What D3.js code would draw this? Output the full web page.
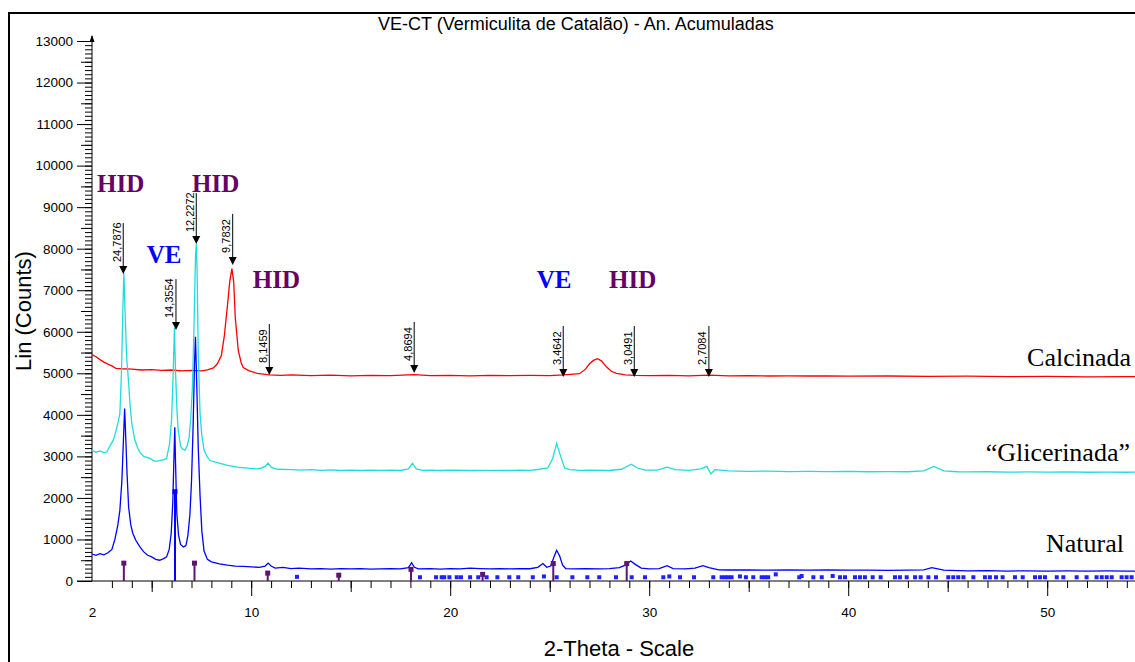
<!DOCTYPE html>
<html>
<head>
<meta charset="utf-8">
<script src="https://cdn.jsdelivr.net/npm/d3@7"></script>
<style>
body { margin:0; background:#fff; }
svg { display:block; }
</style>
</head>
<body>
<div id="chart"></div>
<script>
var natural = [[2.0,650],[2.2,620],[2.4,660],[2.6,630],[2.8,680],[3.0,760],[3.15,1000],[3.3,1350],[3.4,1700],[3.5,2400],[3.58,3400],[3.64,4150],[3.7,3400],[3.76,2600],[3.84,1780],[3.95,1350],[4.05,1150],[4.2,980],[4.4,830],[4.6,700],[4.8,620],[5.0,580],[5.2,520],[5.4,500],[5.6,540],[5.75,580],[5.88,760],[5.98,1150],[6.06,1900],[6.12,3000],[6.16,3700],[6.2,2800],[6.26,1650],[6.35,1100],[6.45,880],[6.6,820],[6.72,850],[6.82,1100],[6.92,1600],[7.0,2400],[7.08,3700],[7.15,5200],[7.2,5880],[7.26,4800],[7.34,3200],[7.43,2050],[7.52,1200],[7.63,720],[7.8,520],[8.0,460],[8.4,410],[8.8,380],[9.2,360],[9.6,350],[10.0,340],[10.4,330],[10.7,360],[10.85,430],[11.0,360],[11.2,310],[11.6,330],[12.0,300],[12.4,310],[13.0,290],[13.5,300],[14.0,285],[14.5,300],[15.0,290],[15.5,300],[16.0,285],[16.5,290],[17.0,300],[17.5,290],[17.9,320],[18.06,440],[18.2,330],[18.4,290],[19.0,300],[19.5,285],[20.0,300],[20.5,290],[21.0,310],[21.5,300],[22.0,290],[22.5,300],[23.0,290],[23.5,300],[24.0,295],[24.4,330],[24.66,420],[24.85,330],[25.05,360],[25.2,560],[25.35,740],[25.5,600],[25.65,380],[25.8,300],[26.2,290],[26.8,295],[27.5,290],[28.0,300],[28.5,320],[28.8,380],[29.07,480],[29.3,400],[29.6,310],[30.0,290],[30.5,300],[30.9,370],[31.2,300],[31.8,290],[32.3,310],[32.7,370],[33.0,320],[33.5,270],[34.0,265],[35.0,270],[36.0,260],[37.0,265],[38.0,260],[39.0,265],[40.0,260],[41.0,262],[42.0,258],[43.0,262],[43.8,270],[44.2,320],[44.5,290],[44.8,260],[45.5,250],[46.0,245],[47,248],[48,240],[49,245],[50,240],[51,244],[52,238],[53,243],[54,238],[55,242]];

var glicerinada = [[2.0,3150],[2.2,3100],[2.4,3130],[2.6,3090],[2.75,3110],[2.9,3250],[3.07,3390],[3.2,3600],[3.3,3800],[3.4,4030],[3.48,5000],[3.55,6500],[3.6,7420],[3.66,6500],[3.74,5400],[3.83,4830],[3.92,4200],[4.0,3790],[4.15,3400],[4.3,3200],[4.4,3100],[4.6,3000],[4.9,2950],[5.17,2880],[5.4,2900],[5.6,2920],[5.75,2950],[5.9,3310],[6.0,3900],[6.08,5000],[6.14,6100],[6.2,5000],[6.27,4100],[6.33,3630],[6.45,3250],[6.55,3180],[6.67,3150],[6.78,3250],[6.88,3450],[6.96,3900],[7.04,4600],[7.12,6000],[7.2,7800],[7.24,8110],[7.28,7500],[7.34,5500],[7.43,4030],[7.52,3500],[7.63,3150],[7.8,2980],[7.93,2900],[8.3,2850],[8.77,2790],[9.3,2740],[9.94,2710],[10.4,2700],[10.7,2760],[10.85,2840],[11.0,2740],[11.3,2690],[12,2680],[12.5,2670],[13,2680],[13.5,2665],[14,2675],[14.5,2660],[15,2670],[15.5,2660],[16,2670],[16.5,2665],[17,2670],[17.5,2660],[17.9,2700],[18.1,2830],[18.3,2700],[18.6,2665],[19,2670],[19.5,2660],[20,2670],[21,2660],[22,2665],[23,2660],[23.5,2670],[24,2665],[24.5,2690],[24.9,2720],[25.15,2950],[25.35,3310],[25.55,3000],[25.75,2720],[26,2680],[26.5,2665],[27,2670],[28,2660],[28.6,2690],[29.1,2810],[29.4,2720],[29.8,2670],[30.4,2670],[30.9,2740],[31.3,2680],[32,2665],[32.6,2700],[32.9,2760],[33.1,2580],[33.3,2680],[34,2650],[35,2640],[36,2645],[37,2635],[38,2640],[39,2635],[40,2640],[41,2630],[42,2635],[43,2630],[43.8,2650],[44.3,2760],[44.8,2650],[45.5,2630],[46,2625],[47,2630],[48,2620],[49,2625],[50,2620],[51,2625],[52,2618],[53,2622],[54,2618],[55,2620]];

var calcinada = [[2.0,5450],[2.2,5400],[2.4,5330],[2.6,5270],[2.8,5220],[3.0,5180],[3.2,5120],[3.5,5110],[4,5100],[4.5,5080],[5,5090],[5.5,5070],[6,5080],[6.5,5060],[7,5070],[7.5,5060],[7.8,5080],[8.1,5130],[8.3,5230],[8.5,5430],[8.65,5900],[8.8,6600],[8.92,7200],[9.03,7520],[9.12,7200],[9.2,6340],[9.35,5550],[9.5,5250],[9.6,5140],[9.9,5060],[10.3,5000],[10.9,4960],[11.5,4950],[12,4960],[13,4945],[14,4955],[15,4940],[16,4950],[17,4945],[18.2,4970],[19,4945],[20,4950],[21,4940],[22,4950],[23,4945],[24,4950],[25,4945],[25.7,4960],[26.2,4980],[26.5,4990],[26.8,5100],[27.0,5230],[27.2,5310],[27.4,5350],[27.6,5300],[27.86,5150],[28.1,5050],[28.36,5000],[28.8,4960],[29.3,4950],[30,4945],[31,4950],[32,4940],[33,4955],[34,4940],[35,4945],[36,4935],[37,4940],[38,4935],[39,4940],[40,4930],[42,4935],[44,4925],[46,4930],[48,4920],[50,4925],[52,4915],[54,4920],[55,4915]];

var seriesNames = ["Calcinada", "\u201cGlicerinada\u201d", "Natural"];
var seriesColors = ["#ff0000", "#22dcdc", "#0000ff"];
var nameCounts = [5170, 2880, 700];

// setas com d (Å)
var arrowLabels = ["24,7876","14,3554","12,2272","9,7832","8,1459","4,8694","3,4642","3,0491","2,7084"];
var arrowTheta = [3.57, 6.22, 7.24, 9.07, 10.91, 18.19, 25.68, 29.25, 33.0];
var arrowCounts = [7390, 6040, 8110, 7610, 4960, 5010, 4910, 4910, 4910];

// fases
var phaseLabels = ["HID","HID","VE","HID","VE","HID"];
var phaseTheta = [2.25, 7.03, 4.75, 10.08, 24.35, 27.98];
var phaseCounts = [9370, 9370, 7660, 7060, 7060, 7060];

// padrões de referência
var hidTheta = [3.6, 7.15, 10.83, 14.4, 18.03, 21.63, 25.18, 28.87];
var hidCounts = [430, 430, 190, 140, 280, 160, 420, 420];
var veTheta = [6.17];
var veCounts = [2150];
var veMarkTheta = [12.3,18.48,19.29,19.57,19.70,19.96,20.33,20.54,21.0,21.41,21.83,22.37,22.97,23.42,24.15,24.71,25.35,26.14,26.89,27.49,28.33,29.12,29.79,30.71,31.01,31.55,32.25,33.22,33.64,33.81,33.97,34.14,34.56,34.86,35.23,35.65,35.82,35.98,36.36,37.54,37.66,38.25,38.67,39.22,39.59,39.84,40.34,40.59,40.84,41.23,41.63,42.35,42.6,42.94,43.36,43.64,44.03,44.41,45.03,45.28,45.53,45.79,46.29,46.87,47.12,47.43,47.76,48.38,48.77,49.39,49.64,49.89,50.48,50.81,51.48,51.98,52.48,52.74,52.99,53.24,53.74,53.99,54.24];
var veMarkCounts = [100,90,90,90,90,90,90,90,90,90,90,90,90,90,90,110,90,90,90,90,90,90,90,90,110,90,90,90,90,90,90,90,110,90,90,90,90,90,160,90,120,90,90,120,90,90,90,90,90,90,90,90,90,90,90,90,90,90,90,90,90,90,90,90,90,90,90,90,90,90,90,90,90,90,90,90,90,90,90,90,90,90,90];

var xTicks = [2, 10, 20, 30, 40, 50];
var yTicks = [0,1000,2000,3000,4000,5000,6000,7000,8000,9000,10000,11000,12000,13000];

var W = 1135, H = 662;
var svg = d3.select("#chart").append("svg")
	.attr("width", W)
	.attr("height", H);

var x = d3.scaleLinear().domain([2, 55]).range([92, 1146.7]);
var y = d3.scaleLinear().domain([0, 13000]).range([581, 41]);

// moldura
svg.append("path")
	.attr("d", "M9,662V13H1135")
	.attr("fill", "none")
	.attr("stroke", "#000")
	.attr("stroke-width", 2);

// titulo
svg.append("text")
	.attr("x", 378).attr("y", 30)
	.style("font-family", "'Liberation Sans', Arial, sans-serif")
	.style("font-size", "18px")
	.text("VE-CT (Vermiculita de Catal\u00e3o) - An. Acumuladas");

// eixo Y
var axisFont = "'Liberation Sans', Arial, sans-serif";
var gy = svg.append("g").attr("transform", "translate(" + x(2) + ",0)");
gy.append("g").call(d3.axisLeft(y).tickValues(d3.range(0, 13001, 100)).tickSize(7).tickFormat(""));
gy.append("g").call(d3.axisLeft(y).tickValues(d3.range(500, 13000, 1000)).tickSize(11).tickFormat(""));
gy.append("g").call(d3.axisLeft(y).tickValues(yTicks).tickSize(15).tickPadding(4).tickSizeOuter(0).tickFormat(d3.format("d")));
gy.selectAll(".domain").remove();
gy.selectAll("text").style("font-family", axisFont).style("font-size", "13.5px").attr("fill", "#000");
gy.append("line").attr("x1", 0).attr("x2", 0).attr("y1", y(0)).attr("y2", 36).attr("stroke", "#000");
gy.append("path").attr("d", "M-2.5,42L0,35L2.5,42Z").attr("fill", "#000");

// eixo X
var gx = svg.append("g").attr("transform", "translate(0," + y(0) + ")");
gx.append("g").call(d3.axisBottom(x).tickValues(d3.range(3, 56, 1)).tickSize(7).tickFormat(""));
gx.append("g").call(d3.axisBottom(x).tickValues([5, 15, 25, 35, 45, 55]).tickSize(11).tickFormat(""));
gx.append("g").call(d3.axisBottom(x).tickValues([10, 20, 30, 40, 50]).tickSize(15).tickFormat(""));
gx.append("g").call(d3.axisBottom(x).tickValues(xTicks).tickSize(0).tickPadding(26).tickFormat(d3.format("d")));
gx.selectAll(".domain").remove();
gx.selectAll("text").style("font-family", axisFont).style("font-size", "13.5px").attr("fill", "#000");
gx.append("line").attr("x1", x(2) - 15).attr("x2", W).attr("y1", 0).attr("y2", 0).attr("stroke", "#000");

svg.append("text")
	.attr("transform", "translate(31," + ((y(0) + y(13000)) / 2) + ") rotate(-90)")
	.attr("text-anchor", "middle")
	.style("font-family", axisFont)
	.style("font-size", "22px")
	.text("Lin (Counts)");

svg.append("text")
	.attr("x", 619).attr("y", 656)
	.attr("text-anchor", "middle")
	.style("font-family", axisFont)
	.style("font-size", "22px")
	.text("2-Theta - Scale");

// curvas
var line = d3.line()
	.x(function(d) { return x(d[0]); })
	.y(function(d) { return y(d[1]); });

var allSeries = [calcinada, glicerinada, natural];
svg.selectAll(".curve")
	.data(allSeries)
	.enter()
	.append("path")
	.attr("class", "curve")
	.attr("d", line)
	.attr("fill", "none")
	.attr("stroke", function(d, i) { return seriesColors[i]; })
	.attr("stroke-width", 1.3);

// padrão VE (quadrados azuis)
svg.selectAll(".vemark")
	.data(veMarkTheta)
	.enter()
	.append("rect")
	.attr("x", function(d) { return x(d) - 2; })
	.attr("y", function(d, i) { return y(veMarkCounts[i]) - 2; })
	.attr("width", 4).attr("height", 4)
	.attr("fill", "#1f1fff");

// sticks
var sticks = [];
hidTheta.forEach(function(t, i) { sticks.push({t: t, c: hidCounts[i], col: "#5e1470"}); });
veTheta.forEach(function(t, i) { sticks.push({t: t, c: veCounts[i], col: "#0000ff"}); });
var st = svg.selectAll(".stick").data(sticks).enter().append("g").attr("class", "stick");
st.append("line")
	.attr("x1", function(d) { return x(d.t); })
	.attr("x2", function(d) { return x(d.t); })
	.attr("y1", function(d) { return y(d.c); })
	.attr("y2", y(0))
	.attr("stroke", function(d) { return d.col; })
	.attr("stroke-width", 2);
st.append("rect")
	.attr("x", function(d) { return x(d.t) - 2.5; })
	.attr("y", function(d) { return y(d.c) - 2.5; })
	.attr("width", 5).attr("height", 5)
	.attr("fill", function(d) { return d.col; });

// setas
var arrows = svg.selectAll(".arrow")
	.data(arrowLabels)
	.enter()
	.append("g")
	.attr("class", "arrow")
	.attr("transform", function(d, i) { return "translate(" + x(arrowTheta[i]) + "," + y(arrowCounts[i]) + ")"; });
arrows.append("line")
	.attr("x1", 0).attr("x2", 0)
	.attr("y1", -51).attr("y2", -6)
	.attr("stroke", "#000")
	.attr("stroke-width", 1);
arrows.append("path")
	.attr("d", "M-4,-8L4,-8L0,0Z")
	.attr("fill", "#000");
arrows.append("text")
	.attr("transform", "translate(-2.5,-12) rotate(-90)")
	.style("font-family", axisFont)
	.style("font-size", "11px")
	.text(function(d) { return d; });

// rótulos de fase
svg.selectAll(".phase")
	.data(phaseLabels)
	.enter()
	.append("text")
	.attr("class", "phase")
	.attr("x", function(d, i) { return x(phaseTheta[i]); })
	.attr("y", function(d, i) { return y(phaseCounts[i]); })
	.style("font-family", "'Liberation Serif', 'Times New Roman', serif")
	.style("font-weight", "bold")
	.style("font-size", "25px")
	.attr("fill", function(d) { return d == "VE" ? "#0000ff" : "#660066"; })
	.text(function(d) { return d; });

// nomes das amostras
var nameRight = [1131, 1130, 1124];
svg.selectAll(".sname")
	.data(seriesNames)
	.enter()
	.append("text")
	.attr("class", "sname")
	.attr("x", function(d, i) { return nameRight[i]; })
	.attr("y", function(d, i) { return y(nameCounts[i]); })
	.attr("text-anchor", "end")
	.style("font-family", "'Liberation Serif', 'Times New Roman', serif")
	.style("font-size", "26px")
	.attr("fill", "#000")
	.text(function(d) { return d; });
</script>
</body>
</html>
